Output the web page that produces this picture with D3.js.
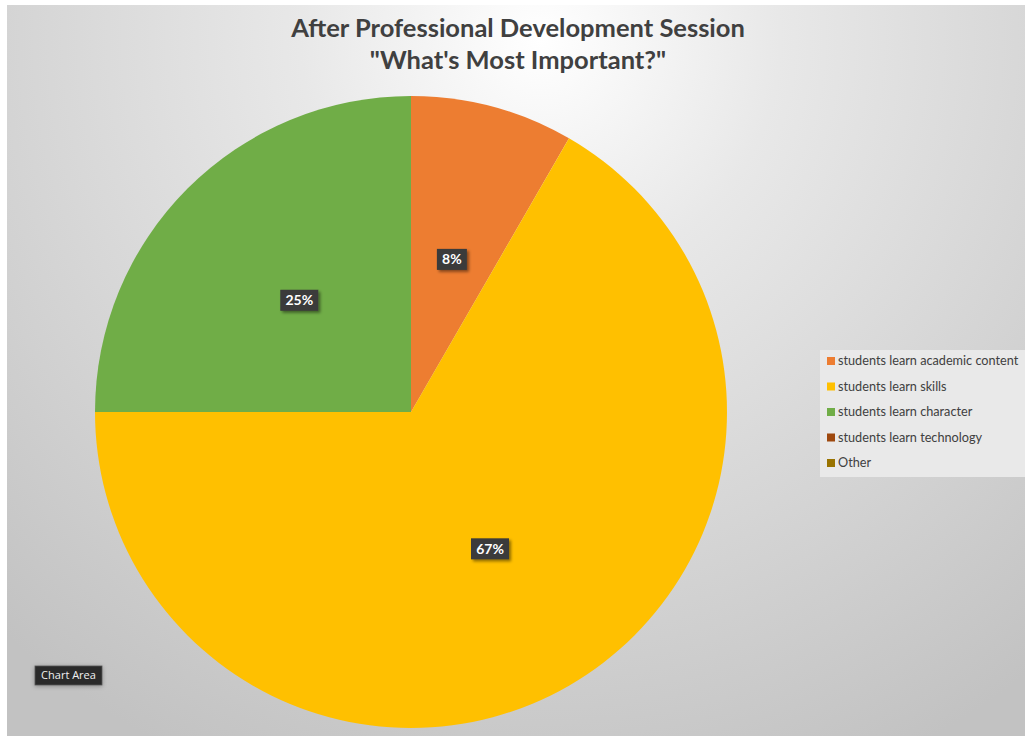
<!DOCTYPE html>
<html><head><meta charset="utf-8">
<script src="https://cdn.jsdelivr.net/npm/d3@7"></script>
<style>
html,body{margin:0;padding:0;background:#fff;overflow:hidden}
svg{display:block}
</style></head>
<body>
<svg id="chart" width="1025" height="738"></svg>
<script>
const titleLines = ["After Professional Development Session", "\"What's Most Important?\""];
const categories = ["students learn academic content","students learn skills","students learn character","students learn technology","Other"];
const values = [1, 8, 3, 0, 0];
const labels = ["8%","67%","25%","",""];
const colors = ["#ED7D31","#FFC000","#70AD47","#9E480E","#997300"];

const svg = d3.select("#chart");
const defs = svg.append("defs");
const grad = defs.append("radialGradient").attr("id","bg")
  .attr("gradientUnits","userSpaceOnUse").attr("cx",540).attr("cy",40).attr("r",800);
grad.append("stop").attr("offset","0").attr("stop-color","#ffffff");
grad.append("stop").attr("offset","0.3").attr("stop-color","#e8e8e8");
grad.append("stop").attr("offset","1").attr("stop-color","#c2c2c2");
const sh = defs.append("filter").attr("id","sh").attr("x","-30%").attr("y","-30%").attr("width","170%").attr("height","170%");
sh.append("feDropShadow").attr("dx",2).attr("dy",2).attr("stdDeviation",1.5).attr("flood-color","#000").attr("flood-opacity",0.45);
const sh2 = defs.append("filter").attr("id","sh2").attr("x","-30%").attr("y","-30%").attr("width","170%").attr("height","170%");
sh2.append("feDropShadow").attr("dx",0).attr("dy",1).attr("stdDeviation",2).attr("flood-color","#000").attr("flood-opacity",0.3);

svg.append("rect").attr("x",7).attr("y",5).attr("width",1018).attr("height",731).attr("fill","url(#bg)");

const title = svg.append("text").attr("x",518).attr("y",37).attr("text-anchor","middle")
  .attr("font-family","Lato, 'Open Sans', sans-serif").attr("font-weight","bold")
  .attr("font-size",25.5).attr("fill","#404040");
titleLines.forEach((t,i)=>title.append("tspan").attr("x",518).attr("dy",i?32:0).text(t));

const cx = 411, cy = 412, r = 316;
const pie = d3.pie().sort(null).value(d=>d);
const arcs = pie(values);
const arc = d3.arc().innerRadius(0).outerRadius(r);
const g = svg.append("g").attr("transform",`translate(${cx},${cy})`);
g.selectAll("path").data(arcs).join("path").attr("d",arc).attr("fill",(d,i)=>colors[i]);

const labelArc = d3.arc().innerRadius(r*0.5).outerRadius(r*0.5);
const lab = g.selectAll("g.lab").data(arcs.filter((d,i)=>values[i]>0)).join("g").attr("class","lab")
  .attr("transform",d=>{const c=labelArc.centroid(d);return `translate(${c[0]},${c[1]})`;});
lab.append("rect").attr("x",d=>labels[d.index].length>2?-19:-15).attr("y",-10.5)
  .attr("width",d=>labels[d.index].length>2?38:30).attr("height",21)
  .attr("fill","#3a3a3a").attr("filter","url(#sh)");
lab.append("text").attr("text-anchor","middle").attr("dy","0.36em")
  .attr("font-family","Lato, 'Open Sans', sans-serif").attr("font-weight","bold")
  .attr("font-size",14).attr("fill","#fff").text(d=>labels[d.index]);

// legend
const lg = svg.append("g");
lg.append("rect").attr("x",820).attr("y",350).attr("width",205).attr("height",127).attr("fill","#e9e9e9");
const items = lg.selectAll("g.it").data(categories).join("g").attr("class","it")
  .attr("transform",(d,i)=>`translate(827,${361+i*25.5})`);
items.append("rect").attr("x",0).attr("y",-4).attr("width",8).attr("height",8).attr("fill",(d,i)=>colors[i]);
items.append("text").attr("x",11).attr("dy","0.35em")
  .attr("font-family","Lato, 'Open Sans', sans-serif").attr("font-size",12.7).attr("fill","#404040").text(d=>d);

// Chart Area tooltip
const tt = svg.append("g").attr("transform","translate(35,666)");
tt.append("rect").attr("width",67).attr("height",19).attr("fill","#2b2b2b").attr("stroke","#555").attr("stroke-width",0.8).attr("filter","url(#sh2)");
tt.append("text").attr("x",33.5).attr("y",9.5).attr("dy","0.36em").attr("text-anchor","middle")
  .attr("font-family","'Open Sans', Lato, sans-serif").attr("font-size",11).attr("fill","#f0f0f0").text("Chart Area");
</script>
</body></html>
